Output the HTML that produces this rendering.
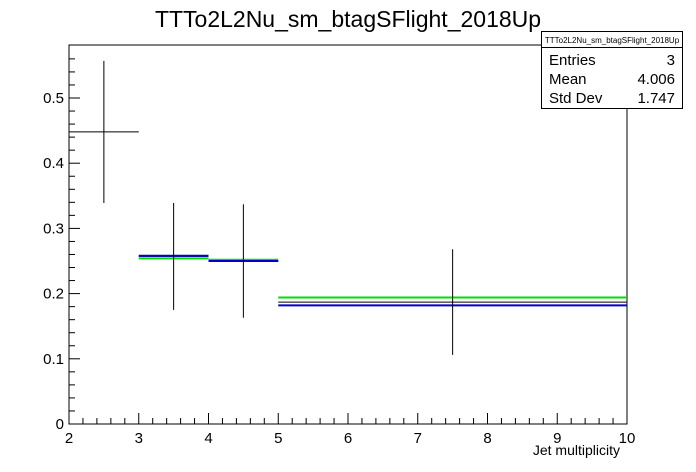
<!DOCTYPE html>
<html><head><meta charset="utf-8"><style>
body{margin:0;background:#fff;}
svg{display:block;font-family:"Liberation Sans",Arial,sans-serif;}
</style></head><body>
<svg id="c" width="696" height="472" xmlns="http://www.w3.org/2000/svg">
<text x="348" y="27" font-size="23" text-anchor="middle">TTTo2L2Nu_sm_btagSFlight_2018Up</text>
<rect x="69" y="45" width="558" height="379" fill="none" stroke="#000" stroke-width="1"/>
<g id="axes"></g>
<g id="marks"></g>
<text x="620" y="455" font-size="14" text-anchor="end">Jet multiplicity</text>
<g>
<rect x="541.5" y="31.5" width="141" height="77" fill="#fff" stroke="#000"/>
<line x1="541.5" y1="47.5" x2="682.5" y2="47.5" stroke="#000"/>
<text x="612" y="43" font-size="8" text-anchor="middle">TTTo2L2Nu_sm_btagSFlight_2018Up</text>
<text x="549" y="65" font-size="15">Entries</text><text x="675" y="65" font-size="15" text-anchor="end">3</text>
<text x="549" y="84" font-size="15">Mean</text><text x="675" y="84" font-size="15" text-anchor="end">4.006</text>
<text x="549" y="103" font-size="15">Std Dev</text><text x="675" y="103" font-size="15" text-anchor="end">1.747</text>
</g>
</svg>
<script>
const binEdges=[2,3,4,5,10];
const dataValues=[0.448,0.257,0.250,0.187];
const dataErrors=[0.109,0.082,0.087,0.081];
const blueValues=[null,0.258,0.250,0.182];
const greenValues=[null,0.254,0.252,0.194];
const xTicks=[2,3,4,5,6,7,8,9,10];
const yTicks=[0,0.1,0.2,0.3,0.4,0.5];
const X0=69,X1=627,XMIN=2,XMAX=10,Y0=424,YPX=652;
const sx=v=>X0+(v-XMIN)/(XMAX-XMIN)*(X1-X0);
const sy=v=>Y0-v*YPX;
const NS="http://www.w3.org/2000/svg";
const ax=document.getElementById('axes'),mk=document.getElementById('marks');
function ln(p,x1,y1,x2,y2,c,w){const l=document.createElementNS(NS,'line');l.setAttribute('x1',x1);l.setAttribute('y1',y1);l.setAttribute('x2',x2);l.setAttribute('y2',y2);l.setAttribute('stroke',c);l.setAttribute('stroke-width',w);p.appendChild(l);return l;}
function tx(p,x,y,s,anchor){const t=document.createElementNS(NS,'text');t.setAttribute('x',x);t.setAttribute('y',y);t.setAttribute('font-size','15');t.setAttribute('text-anchor',anchor);t.textContent=s;p.appendChild(t);return t;}
for(let i=0;i<xTicks.length;i++){
 const x=sx(xTicks[i]);
 const t=ln(ax,x,Y0,x,Y0-11,'#000',1);
 
 
 const lb=tx(ax,x,Y0+19,String(xTicks[i]),'middle');
 
 
 if(i<xTicks.length-1){for(let k=1;k<5;k++){const xm=sx(xTicks[i]+k*0.2);const m=ln(ax,xm,Y0,xm,Y0-6,'#000',1);
 
 }}
}
for(let i=0;i<yTicks.length;i++){
 const y=sy(yTicks[i]);
 const t=ln(ax,X0,y,X0+11,y,'#000',1);
 
 
 const lb=tx(ax,X0-5,y+5,String(yTicks[i]),'end');
 
 
}
for(let v=0.02;v<0.58;v+=0.02){if(Math.abs(v*10-Math.round(v*10))<1e-6)continue;const y=sy(v);const m=ln(ax,X0,y,X0+6,y,'#000',1);
 
 }
function steps(vals,color,w,name){for(let i=0;i<vals.length;i++){if(vals[i]==null)continue;const l=ln(mk,sx(binEdges[i]),sy(vals[i]),sx(binEdges[i+1]),sy(vals[i]),color,w);
 
 }}
for(let i=0;i<dataValues.length;i++){
 const h=ln(mk,sx(binEdges[i]),sy(dataValues[i]),sx(binEdges[i+1]),sy(dataValues[i]),'#000',1);
 
 
}
steps(greenValues,'#00dd00',2,'green-series-bin');
steps(blueValues,'#0000cc',2,'blue-series-bin');
for(let i=0;i<dataValues.length;i++){
 const xc=sx((binEdges[i]+binEdges[i+1])/2);
 const e=ln(mk,xc,sy(dataValues[i]+dataErrors[i]),xc,sy(dataValues[i]-dataErrors[i]),'#000',1);
 
 
}
</script>
</body></html>
